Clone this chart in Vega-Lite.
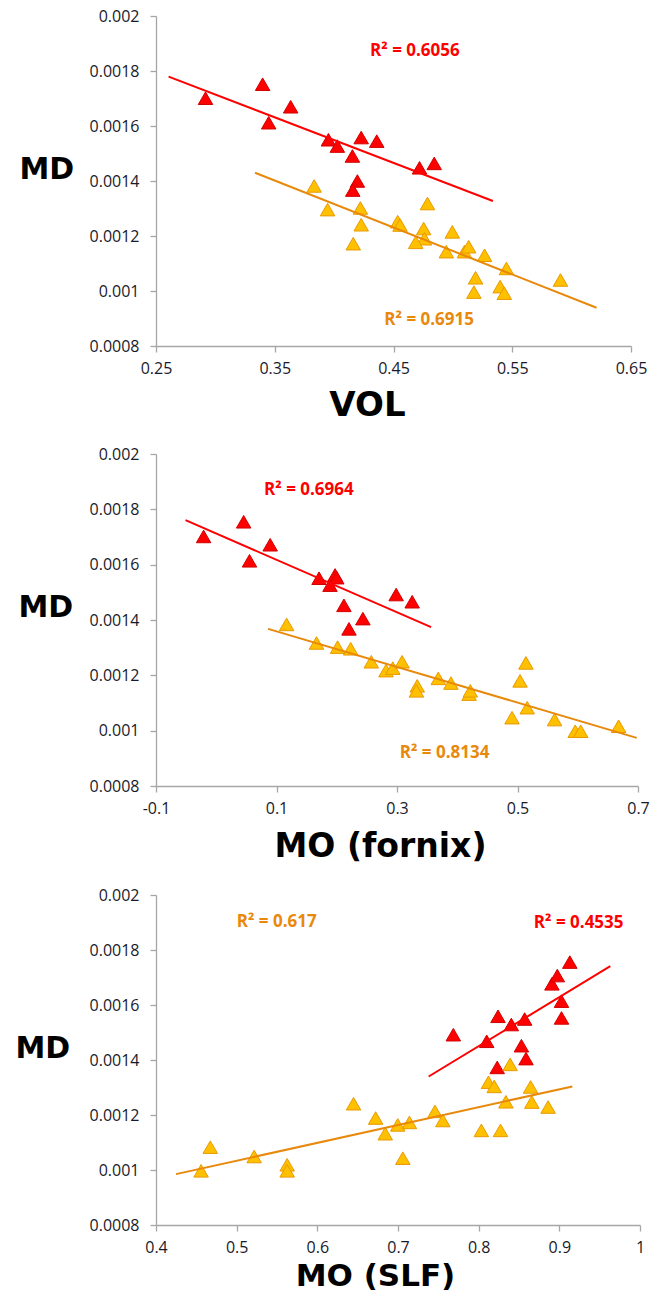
{
  "$schema": "https://vega.github.io/schema/vega-lite/v6.json",
  "padding": {"left": 15, "top": 8, "right": 0, "bottom": 0},
  "spacing": 24,
  "config": {
    "view": {"stroke": null},
    "axis": {
      "grid": false,
      "domainColor": "#a6a6a6",
      "domainWidth": 1.3,
      "tickColor": "#a6a6a6",
      "tickWidth": 1.3,
      "tickSize": 6,
      "labelFont": "Open Sans",
      "labelFontSize": 16,
      "labelColor": "#1a1a2a",
      "labelFlush": false,
      "labelOverlap": false,
      "titleFont": "DejaVu Sans",
      "titleFontWeight": "bold",
      "titleColor": "#000000"
    }
  },
  "datasets": {
    "pts": [
      {"panel": "VOL", "group": "G1", "x": 0.2917, "y": 0.001701},
      {"panel": "VOL", "group": "G1", "x": 0.3398, "y": 0.001752},
      {"panel": "VOL", "group": "G1", "x": 0.3634, "y": 0.00167},
      {"panel": "VOL", "group": "G1", "x": 0.3449, "y": 0.001612},
      {"panel": "VOL", "group": "G1", "x": 0.3952, "y": 0.00155},
      {"panel": "VOL", "group": "G1", "x": 0.4027, "y": 0.001527},
      {"panel": "VOL", "group": "G1", "x": 0.4228, "y": 0.001558},
      {"panel": "VOL", "group": "G1", "x": 0.4359, "y": 0.001545},
      {"panel": "VOL", "group": "G1", "x": 0.4154, "y": 0.001491},
      {"panel": "VOL", "group": "G1", "x": 0.4196, "y": 0.0014},
      {"panel": "VOL", "group": "G1", "x": 0.4157, "y": 0.001367},
      {"panel": "VOL", "group": "G1", "x": 0.4719, "y": 0.001448},
      {"panel": "VOL", "group": "G1", "x": 0.4843, "y": 0.001464},
      {"panel": "VOL", "group": "G2", "x": 0.3832, "y": 0.001382},
      {"panel": "VOL", "group": "G2", "x": 0.3945, "y": 0.001296},
      {"panel": "VOL", "group": "G2", "x": 0.4221, "y": 0.001302},
      {"panel": "VOL", "group": "G2", "x": 0.4228, "y": 0.001241},
      {"panel": "VOL", "group": "G2", "x": 0.4161, "y": 0.001172},
      {"panel": "VOL", "group": "G2", "x": 0.4535, "y": 0.001252},
      {"panel": "VOL", "group": "G2", "x": 0.4555, "y": 0.00124},
      {"panel": "VOL", "group": "G2", "x": 0.4786, "y": 0.001318},
      {"panel": "VOL", "group": "G2", "x": 0.4754, "y": 0.001227},
      {"panel": "VOL", "group": "G2", "x": 0.4761, "y": 0.00119},
      {"panel": "VOL", "group": "G2", "x": 0.4687, "y": 0.001177},
      {"panel": "VOL", "group": "G2", "x": 0.4995, "y": 0.001215},
      {"panel": "VOL", "group": "G2", "x": 0.4945, "y": 0.001143},
      {"panel": "VOL", "group": "G2", "x": 0.5097, "y": 0.001143},
      {"panel": "VOL", "group": "G2", "x": 0.5133, "y": 0.001161},
      {"panel": "VOL", "group": "G2", "x": 0.5267, "y": 0.00113},
      {"panel": "VOL", "group": "G2", "x": 0.5451, "y": 0.001082},
      {"panel": "VOL", "group": "G2", "x": 0.5191, "y": 0.001048},
      {"panel": "VOL", "group": "G2", "x": 0.5177, "y": 0.000996},
      {"panel": "VOL", "group": "G2", "x": 0.5398, "y": 0.001016},
      {"panel": "VOL", "group": "G2", "x": 0.5433, "y": 0.000992},
      {"panel": "VOL", "group": "G2", "x": 0.5906, "y": 0.00104},

      {"panel": "fornix", "group": "G1", "x": -0.021, "y": 0.001702},
      {"panel": "fornix", "group": "G1", "x": 0.0455, "y": 0.001755},
      {"panel": "fornix", "group": "G1", "x": 0.0895, "y": 0.001672},
      {"panel": "fornix", "group": "G1", "x": 0.0552, "y": 0.001614},
      {"panel": "fornix", "group": "G1", "x": 0.1706, "y": 0.001551},
      {"panel": "fornix", "group": "G1", "x": 0.1888, "y": 0.001526},
      {"panel": "fornix", "group": "G1", "x": 0.1972, "y": 0.001563},
      {"panel": "fornix", "group": "G1", "x": 0.2, "y": 0.001553},
      {"panel": "fornix", "group": "G1", "x": 0.2119, "y": 0.001453},
      {"panel": "fornix", "group": "G1", "x": 0.2434, "y": 0.001405},
      {"panel": "fornix", "group": "G1", "x": 0.2203, "y": 0.001368},
      {"panel": "fornix", "group": "G1", "x": 0.2986, "y": 0.001492},
      {"panel": "fornix", "group": "G1", "x": 0.3252, "y": 0.001466},
      {"panel": "fornix", "group": "G2", "x": 0.1168, "y": 0.001384},
      {"panel": "fornix", "group": "G2", "x": 0.1664, "y": 0.001317},
      {"panel": "fornix", "group": "G2", "x": 0.2014, "y": 0.001302},
      {"panel": "fornix", "group": "G2", "x": 0.2231, "y": 0.001296},
      {"panel": "fornix", "group": "G2", "x": 0.2573, "y": 0.001249},
      {"panel": "fornix", "group": "G2", "x": 0.2818, "y": 0.001217},
      {"panel": "fornix", "group": "G2", "x": 0.293, "y": 0.001226},
      {"panel": "fornix", "group": "G2", "x": 0.3084, "y": 0.001249},
      {"panel": "fornix", "group": "G2", "x": 0.3336, "y": 0.001162},
      {"panel": "fornix", "group": "G2", "x": 0.3322, "y": 0.001144},
      {"panel": "fornix", "group": "G2", "x": 0.3685, "y": 0.001189},
      {"panel": "fornix", "group": "G2", "x": 0.3895, "y": 0.001172},
      {"panel": "fornix", "group": "G2", "x": 0.4196, "y": 0.001132},
      {"panel": "fornix", "group": "G2", "x": 0.4217, "y": 0.001144},
      {"panel": "fornix", "group": "G2", "x": 0.4909, "y": 0.001047},
      {"panel": "fornix", "group": "G2", "x": 0.5042, "y": 0.00118},
      {"panel": "fornix", "group": "G2", "x": 0.514, "y": 0.001245},
      {"panel": "fornix", "group": "G2", "x": 0.5161, "y": 0.001083},
      {"panel": "fornix", "group": "G2", "x": 0.5615, "y": 0.00104},
      {"panel": "fornix", "group": "G2", "x": 0.5958, "y": 0.000998},
      {"panel": "fornix", "group": "G2", "x": 0.6049, "y": 0.000998},
      {"panel": "fornix", "group": "G2", "x": 0.6678, "y": 0.001016},

      {"panel": "SLF", "group": "G1", "x": 0.7686, "y": 0.001492},
      {"panel": "SLF", "group": "G1", "x": 0.81, "y": 0.001468},
      {"panel": "SLF", "group": "G1", "x": 0.824, "y": 0.001559},
      {"panel": "SLF", "group": "G1", "x": 0.8405, "y": 0.001529},
      {"panel": "SLF", "group": "G1", "x": 0.857, "y": 0.001549},
      {"panel": "SLF", "group": "G1", "x": 0.853, "y": 0.001452},
      {"panel": "SLF", "group": "G1", "x": 0.8587, "y": 0.001405},
      {"panel": "SLF", "group": "G1", "x": 0.823, "y": 0.001373},
      {"panel": "SLF", "group": "G1", "x": 0.9027, "y": 0.001553},
      {"panel": "SLF", "group": "G1", "x": 0.9027, "y": 0.001614},
      {"panel": "SLF", "group": "G1", "x": 0.8908, "y": 0.001677},
      {"panel": "SLF", "group": "G1", "x": 0.8975, "y": 0.001707},
      {"panel": "SLF", "group": "G1", "x": 0.913, "y": 0.001756},
      {"panel": "SLF", "group": "G2", "x": 0.4559, "y": 0.000997},
      {"panel": "SLF", "group": "G2", "x": 0.4673, "y": 0.001083},
      {"panel": "SLF", "group": "G2", "x": 0.5217, "y": 0.001049},
      {"panel": "SLF", "group": "G2", "x": 0.5626, "y": 0.001019},
      {"panel": "SLF", "group": "G2", "x": 0.5626, "y": 0.000997},
      {"panel": "SLF", "group": "G2", "x": 0.6449, "y": 0.001241},
      {"panel": "SLF", "group": "G2", "x": 0.6723, "y": 0.001189},
      {"panel": "SLF", "group": "G2", "x": 0.6842, "y": 0.001132},
      {"panel": "SLF", "group": "G2", "x": 0.6997, "y": 0.001164},
      {"panel": "SLF", "group": "G2", "x": 0.7142, "y": 0.001173},
      {"panel": "SLF", "group": "G2", "x": 0.706, "y": 0.001043},
      {"panel": "SLF", "group": "G2", "x": 0.7458, "y": 0.001213},
      {"panel": "SLF", "group": "G2", "x": 0.7556, "y": 0.00118},
      {"panel": "SLF", "group": "G2", "x": 0.8033, "y": 0.001144},
      {"panel": "SLF", "group": "G2", "x": 0.8271, "y": 0.001144},
      {"panel": "SLF", "group": "G2", "x": 0.8121, "y": 0.001319},
      {"panel": "SLF", "group": "G2", "x": 0.8193, "y": 0.001304},
      {"panel": "SLF", "group": "G2", "x": 0.839, "y": 0.001384},
      {"panel": "SLF", "group": "G2", "x": 0.8338, "y": 0.001248},
      {"panel": "SLF", "group": "G2", "x": 0.8644, "y": 0.001302},
      {"panel": "SLF", "group": "G2", "x": 0.8659, "y": 0.001247},
      {"panel": "SLF", "group": "G2", "x": 0.8861, "y": 0.001229}
    ],
    "lines": [
      {"panel": "VOL", "group": "G1", "x": 0.2606, "y": 0.0017794, "x2": 0.5337, "y2": 0.0013273},
      {"panel": "VOL", "group": "G2", "x": 0.3334, "y": 0.00143, "x2": 0.621, "y2": 0.000939},
      {"panel": "fornix", "group": "G1", "x": -0.051, "y": 0.001761, "x2": 0.3566, "y2": 0.001374},
      {"panel": "fornix", "group": "G2", "x": 0.086, "y": 0.001368, "x2": 0.6979, "y2": 0.000974},
      {"panel": "SLF", "group": "G1", "x": 0.738, "y": 0.00134, "x2": 0.9632, "y2": 0.001741},
      {"panel": "SLF", "group": "G2", "x": 0.4248, "y": 0.000985, "x2": 0.9161, "y2": 0.001304}
    ],
    "labels": [
      {"panel": "VOL", "group": "G1", "x": 0.468, "y": 0.001873, "text": "R² = 0.6056"},
      {"panel": "VOL", "group": "G2", "x": 0.48, "y": 0.000895, "text": "R² = 0.6915"},
      {"panel": "fornix", "group": "G1", "x": 0.1538, "y": 0.001869, "text": "R² = 0.6964"},
      {"panel": "fornix", "group": "G2", "x": 0.379, "y": 0.000921, "text": "R² = 0.8134"},
      {"panel": "SLF", "group": "G2", "x": 0.5496, "y": 0.001903, "text": "R² = 0.617"},
      {"panel": "SLF", "group": "G1", "x": 0.924, "y": 0.0019, "text": "R² = 0.4535"}
    ]
  },
  "vconcat": [
    {
      "width": 475,
      "height": 330,
      "encoding": {
        "x": {"field": "x", "type": "quantitative",
          "scale": {"domain": [0.25, 0.65], "nice": false, "zero": false},
          "axis": {"values": [0.25, 0.35, 0.45, 0.55, 0.65], "labelExpr": "'' + datum.value", "labelPadding": 8,
            "title": "VOL", "titleFontSize": 34, "titleAlign": "center", "titleAnchor": null, "titleX": 211, "titleY": 69, "titleBaseline": "alphabetic"}},
        "y": {"field": "y", "type": "quantitative",
          "scale": {"domain": [0.0008, 0.002], "nice": false, "zero": false},
          "axis": {"values": [0.0008, 0.001, 0.0012, 0.0014, 0.0016, 0.0018, 0.002], "labelExpr": "'' + datum.value", "labelPadding": 11,
            "title": "MD", "titleFontSize": 30, "titleAngle": 0, "titleAlign": "left", "titleBaseline": "alphabetic", "titleX": -137, "titleY": 162}}
      },
      "layer": [
        {"data": {"name": "pts"}, "transform": [{"filter": "datum.panel === 'VOL'"}],
          "mark": {"type": "point", "shape": "triangle-up", "filled": true, "size": 210, "strokeWidth": 1, "opacity": 1},
          "encoding": {
            "fill": {"field": "group", "type": "nominal", "scale": {"domain": ["G1", "G2"], "range": ["#ff0000", "#ffc000"]}, "legend": null},
            "stroke": {"field": "group", "type": "nominal", "scale": {"domain": ["G1", "G2"], "range": ["#d00000", "#e89a00"]}, "legend": null}
          }},
        {"data": {"name": "lines"}, "transform": [{"filter": "datum.panel === 'VOL'"}],
          "mark": {"type": "rule", "strokeWidth": 2},
          "encoding": {
            "x2": {"field": "x2"}, "y2": {"field": "y2"},
            "color": {"field": "group", "type": "nominal", "scale": {"domain": ["G1", "G2"], "range": ["#ff0000", "#e8890c"]}, "legend": null}
          }},
        {"data": {"name": "labels"}, "transform": [{"filter": "datum.panel === 'VOL'"}],
          "mark": {"type": "text", "font": "Open Sans", "fontWeight": "bold", "fontSize": 17, "align": "center", "baseline": "middle"},
          "encoding": {
            "text": {"field": "text"},
            "color": {"field": "group", "type": "nominal", "scale": {"domain": ["G1", "G2"], "range": ["#ff0000", "#e8890c"]}, "legend": null}
          }}
      ]
    },
    {
      "width": 482,
      "height": 332,
      "encoding": {
        "x": {"field": "x", "type": "quantitative",
          "scale": {"domain": [-0.1, 0.7], "nice": false, "zero": false},
          "axis": {"values": [-0.1, 0.1, 0.3, 0.5, 0.7], "labelExpr": "'' + datum.value", "labelPadding": 8,
            "title": "MO (fornix)", "titleFontSize": 33, "titleAlign": "center", "titleAnchor": null, "titleX": 224, "titleY": 70, "titleBaseline": "alphabetic"}},
        "y": {"field": "y", "type": "quantitative",
          "scale": {"domain": [0.0008, 0.002], "nice": false, "zero": false},
          "axis": {"values": [0.0008, 0.001, 0.0012, 0.0014, 0.0016, 0.0018, 0.002], "labelExpr": "'' + datum.value", "labelPadding": 11,
            "title": "MD", "titleFontSize": 30, "titleAngle": 0, "titleAlign": "left", "titleBaseline": "alphabetic", "titleX": -138, "titleY": 162}}
      },
      "layer": [
        {"data": {"name": "pts"}, "transform": [{"filter": "datum.panel === 'fornix'"}],
          "mark": {"type": "point", "shape": "triangle-up", "filled": true, "size": 210, "strokeWidth": 1, "opacity": 1},
          "encoding": {
            "fill": {"field": "group", "type": "nominal", "scale": {"domain": ["G1", "G2"], "range": ["#ff0000", "#ffc000"]}, "legend": null},
            "stroke": {"field": "group", "type": "nominal", "scale": {"domain": ["G1", "G2"], "range": ["#d00000", "#e89a00"]}, "legend": null}
          }},
        {"data": {"name": "lines"}, "transform": [{"filter": "datum.panel === 'fornix'"}],
          "mark": {"type": "rule", "strokeWidth": 2},
          "encoding": {
            "x2": {"field": "x2"}, "y2": {"field": "y2"},
            "color": {"field": "group", "type": "nominal", "scale": {"domain": ["G1", "G2"], "range": ["#ff0000", "#e8890c"]}, "legend": null}
          }},
        {"data": {"name": "labels"}, "transform": [{"filter": "datum.panel === 'fornix'"}],
          "mark": {"type": "text", "font": "Open Sans", "fontWeight": "bold", "fontSize": 17, "align": "center", "baseline": "middle"},
          "encoding": {
            "text": {"field": "text"},
            "color": {"field": "group", "type": "nominal", "scale": {"domain": ["G1", "G2"], "range": ["#ff0000", "#e8890c"]}, "legend": null}
          }}
      ]
    },
    {
      "width": 484,
      "height": 330,
      "encoding": {
        "x": {"field": "x", "type": "quantitative",
          "scale": {"domain": [0.4, 1], "nice": false, "zero": false},
          "axis": {"values": [0.4, 0.5, 0.6, 0.7, 0.8, 0.9, 1], "labelExpr": "'' + datum.value", "labelPadding": 8,
            "title": "MO (SLF)", "titleFontSize": 31, "titleAlign": "center", "titleAnchor": null, "titleX": 219, "titleY": 60, "titleBaseline": "alphabetic"}},
        "y": {"field": "y", "type": "quantitative",
          "scale": {"domain": [0.0008, 0.002], "nice": false, "zero": false},
          "axis": {"values": [0.0008, 0.001, 0.0012, 0.0014, 0.0016, 0.0018, 0.002], "labelExpr": "'' + datum.value", "labelPadding": 11,
            "title": "MD", "titleFontSize": 30, "titleAngle": 0, "titleAlign": "left", "titleBaseline": "alphabetic", "titleX": -141, "titleY": 162}}
      },
      "layer": [
        {"data": {"name": "pts"}, "transform": [{"filter": "datum.panel === 'SLF'"}],
          "mark": {"type": "point", "shape": "triangle-up", "filled": true, "size": 210, "strokeWidth": 1, "opacity": 1},
          "encoding": {
            "fill": {"field": "group", "type": "nominal", "scale": {"domain": ["G1", "G2"], "range": ["#ff0000", "#ffc000"]}, "legend": null},
            "stroke": {"field": "group", "type": "nominal", "scale": {"domain": ["G1", "G2"], "range": ["#d00000", "#e89a00"]}, "legend": null}
          }},
        {"data": {"name": "lines"}, "transform": [{"filter": "datum.panel === 'SLF'"}],
          "mark": {"type": "rule", "strokeWidth": 2},
          "encoding": {
            "x2": {"field": "x2"}, "y2": {"field": "y2"},
            "color": {"field": "group", "type": "nominal", "scale": {"domain": ["G1", "G2"], "range": ["#ff0000", "#e8890c"]}, "legend": null}
          }},
        {"data": {"name": "labels"}, "transform": [{"filter": "datum.panel === 'SLF'"}],
          "mark": {"type": "text", "font": "Open Sans", "fontWeight": "bold", "fontSize": 17, "align": "center", "baseline": "middle"},
          "encoding": {
            "text": {"field": "text"},
            "color": {"field": "group", "type": "nominal", "scale": {"domain": ["G1", "G2"], "range": ["#ff0000", "#e8890c"]}, "legend": null}
          }}
      ]
    }
  ]
}
